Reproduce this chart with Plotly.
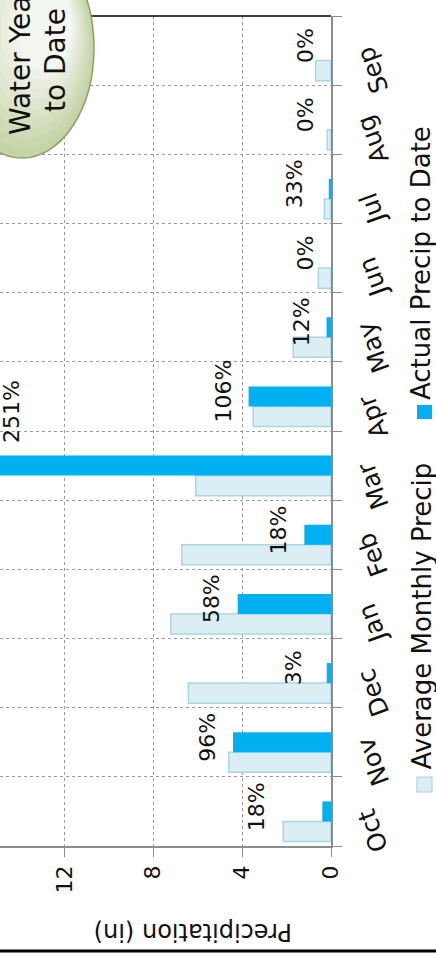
import plotly.graph_objects as go

# Water-year precipitation by month (inches)
months = ["Oct", "Nov", "Dec", "Jan", "Feb", "Mar", "Apr", "May", "Jun", "Jul", "Aug", "Sep"]
avg_precip = [2.15, 4.60, 6.42, 7.21, 6.72, 6.09, 3.50, 1.70, 0.57, 0.30, 0.17, 0.69]
actual_precip = [0.39, 4.41, 0.19, 4.20, 1.20, 15.29, 3.71, 0.20, 0.00, 0.10, 0.00, 0.00]
value_ticks = [0, 4, 8, 12]

pct_labels = [f"{round(a / v * 100)}%" for a, v in zip(actual_precip, avg_precip)]

W, H = 436, 958
M_L, M_R, M_T, M_B = 0, 105, 16, 112
PLOT_W = W - M_L - M_R
PLOT_H = H - M_T - M_B
X_MAX = 14.9  # value shown at the far edge of the value axis

GOTHIC = "DejaVu Sans"
LABEL_FONT = "DejaVu Sans"
AVG_FILL = "#dbeef4"
AVG_EDGE = "#a9d6e4"
ACT_FILL = "#00b0f0"
GRID = "#9a9a9a"
AXIS = "#8c8c8c"
INK = "#111111"


def px(xpix):
    return (xpix - M_L) / PLOT_W


def py(ypix):
    return (M_T + PLOT_H - ypix) / PLOT_H


fig = go.Figure()

fig.add_trace(go.Bar(
    y=months, x=avg_precip, orientation="h", name="Average Monthly Precip",
    width=0.29, offset=-0.435,
    marker=dict(color=AVG_FILL, line=dict(color=AVG_EDGE, width=1.5)),
    showlegend=False,
))
fig.add_trace(go.Bar(
    y=months, x=actual_precip, orientation="h", name="Actual Precip to Date",
    width=0.29, offset=-0.145,
    marker=dict(color=ACT_FILL, line=dict(width=0)),
    showlegend=False,
))

annotations = []

# percent-of-average labels beside each actual bar
label_nudge = {"Oct": -40, "Dec": -8, "Jul": -8}
for m, a, t in zip(months, actual_precip, pct_labels):
    if a > X_MAX:
        annotations.append(dict(
            x=0, xref="paper", y=m, yref="y", text=t, textangle=-90,
            xanchor="left", yanchor="middle", xshift=-3, yshift=54,
            showarrow=False, font=dict(family=LABEL_FONT, size=22, color=INK),
        ))
    else:
        annotations.append(dict(
            x=a, xref="x", y=m, yref="y", text=t, textangle=-90,
            xanchor="right", yanchor="middle", xshift=-11 + label_nudge.get(m, 0), yshift=5,
            showarrow=False, font=dict(family=LABEL_FONT, size=22, color=INK),
        ))

# month names along the category axis, slanted
for m in months:
    annotations.append(dict(
        x=px(373), xref="paper", y=m, yref="y", text=m, textangle=-110,
        xanchor="center", yanchor="middle", yshift=-20,
        showarrow=False, font=dict(family=GOTHIC, size=25, color=INK),
    ))

# value-axis title
annotations.append(dict(
    x=px(193), y=py(932), xref="paper", yref="paper", text="Precipitation (in)",
    textangle=180, showarrow=False, xanchor="center", yanchor="middle",
    font=dict(family=GOTHIC, size=24, color=INK),
))

# legend entries
annotations.append(dict(
    x=px(421), y=py(772), xref="paper", yref="paper", text="Average Monthly Precip",
    textangle=-90, showarrow=False, xanchor="center", yanchor="bottom",
    font=dict(family=GOTHIC, size=26, color=INK),
))
annotations.append(dict(
    x=px(421), y=py(402), xref="paper", yref="paper", text="Actual Precip to Date",
    textangle=-90, showarrow=False, xanchor="center", yanchor="bottom",
    font=dict(family=GOTHIC, size=26, color=INK),
))

# callout text
annotations.append(dict(
    x=px(21), y=py(60), xref="paper", yref="paper", text="Water Year",
    textangle=-90, showarrow=False, xanchor="center", yanchor="middle",
    font=dict(family=GOTHIC, size=28, color=INK),
))
annotations.append(dict(
    x=px(56), y=py(60), xref="paper", yref="paper", text="to Date",
    textangle=-90, showarrow=False, xanchor="center", yanchor="middle",
    font=dict(family=GOTHIC, size=28, color=INK),
))

shapes = [
    # top border of the plotting area
    dict(type="line", xref="paper", yref="paper", x0=px(0), x1=px(331), y0=1, y1=1,
         line=dict(color="#000", width=1.5), layer="above"),
    # outer frame line along the bottom
    dict(type="line", xref="paper", yref="paper", x0=px(0), x1=px(436), y0=py(951), y1=py(951),
         line=dict(color="#000", width=3), layer="above"),
    # legend swatches
    dict(type="rect", xref="paper", yref="paper", x0=px(417), x1=px(432), y0=py(792), y1=py(777),
         fillcolor=AVG_FILL, line=dict(color=AVG_EDGE, width=1.2), layer="above"),
    dict(type="rect", xref="paper", yref="paper", x0=px(417), x1=px(432), y0=py(419), y1=py(405),
         fillcolor=ACT_FILL, line=dict(width=0), layer="above"),
]

# callout bubble: layered ellipses give a soft green-to-white gradient
cx, cy, rx, ry = 22, 48, 72, 110
steps = 10
for k in range(steps):
    f = k / (steps - 1)
    s = 1 - 0.6 * f
    ecx = cx + 22 * f
    ecy = cy - 22 * f
    r = int(196 + (244 - 196) * f)
    g = int(212 + (246 - 212) * f)
    b = int(166 + (240 - 166) * f)
    shapes.append(dict(
        type="circle", xref="paper", yref="paper",
        x0=px(ecx - rx * s), x1=px(ecx + rx * s),
        y0=py(ecy + ry * s), y1=py(ecy - ry * s),
        fillcolor=f"rgb({r},{g},{b})", line=dict(width=0), layer="above",
    ))
shapes.append(dict(
    type="circle", xref="paper", yref="paper",
    x0=px(cx - rx), x1=px(cx + rx), y0=py(cy + ry), y1=py(cy - ry),
    fillcolor="rgba(0,0,0,0)", line=dict(color="#8e9f63", width=1.5), layer="above",
))

fig.update_layout(
    width=W, height=H,
    margin=dict(l=M_L, r=M_R, t=M_T, b=M_B, pad=0),
    paper_bgcolor="white", plot_bgcolor="white",
    barmode="overlay",
    showlegend=False,
    xaxis=dict(
        range=[X_MAX, 0], tickvals=value_ticks, ticktext=[str(v) for v in value_ticks],
        tickangle=-90, ticks="outside", ticklen=9, tickcolor=AXIS, tickwidth=1.2,
        showline=True, linecolor=AXIS, linewidth=1.5,
        showgrid=True, gridcolor=GRID, griddash="dot", gridwidth=1,
        zeroline=False, automargin=False,
        tickfont=dict(family=GOTHIC, size=22, color=INK),
    ),
    yaxis=dict(
        type="category", categoryorder="array", categoryarray=months,
        range=[-0.5, 11.5], side="right", tickson="boundaries",
        ticks="outside", ticklen=9, tickcolor=AXIS, tickwidth=1.2,
        showticklabels=False,
        showline=True, linecolor=AXIS, linewidth=1.5,
        showgrid=True, gridcolor=GRID, griddash="dot", gridwidth=1,
        zeroline=False, automargin=False,
    ),
    annotations=annotations,
    shapes=shapes,
)

fig.write_html("out.html")
